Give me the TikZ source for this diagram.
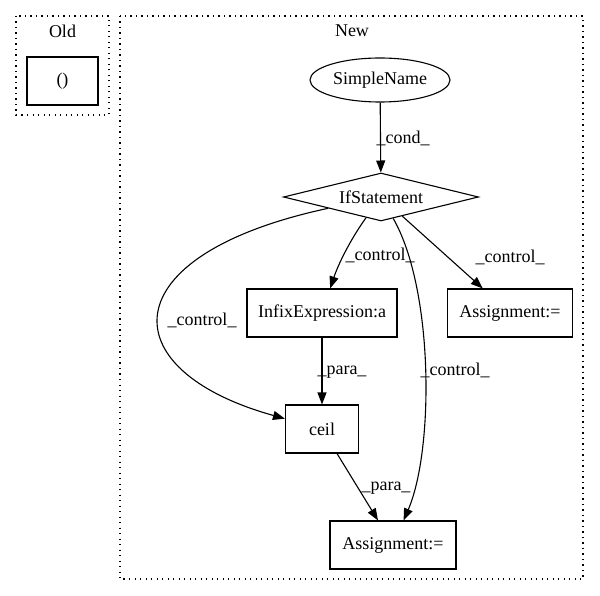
\documentclass[tikz,border=0pt]{standalone}
\usepackage{fontspec}
\setmainfont{Liberation Serif}
\usetikzlibrary{arrows.meta,shapes.geometric}
\begin{document}
\begin{tikzpicture}[x=1pt,y=-1pt,
  every node/.style={font=\fontsize{18}{20}\selectfont},
  box/.style={draw,line width=1.1pt,rectangle,inner sep=0pt,minimum height=48pt},
  cluster/.style={draw,line width=1.1pt,dash pattern=on 1.3pt off 4.2pt},
  edge/.style={draw,line width=1.1pt,-{Triangle[length=12pt,width=9pt]}},
  lbl/.style={inner sep=0pt}]
\useasboundingbox (0,0) rectangle (600,596);
% clusters
\draw[cluster] (16,16) rectangle (109,115);
\draw[cluster] (120,16) rectangle (583,579);
\node[lbl] (oldlbl) at (62.5,31) {Old};
\node[lbl] (newlbl) at (352,31) {New};
% nodes
\node[box,minimum width=71pt] (old) at (62.5,81) {()};
\node[draw,line width=1.1pt,ellipse,inner sep=0pt,minimum width=140pt,minimum height=44pt] (sn) at (380,80) {SimpleName};
\node[draw,line width=1.1pt,diamond,aspect=4,inner sep=0pt,minimum width=195pt,minimum height=48pt] (if) at (381,197) {IfStatement};
\node[box,minimum width=150pt] (infix) at (322,313) {InfixExpression:a};
\node[box,minimum width=125pt] (asgR) at (510,313) {Assignment:=};
\node[box,minimum width=73pt] (ceil) at (322,429) {ceil};
\node[box,minimum width=126pt] (asgB) at (393,545) {Assignment:=};
% edges
\draw[edge] (sn) -- (if);
\node[lbl] at (403,138) {\_cond\_};
\draw[edge] (if) .. controls (350,240) and (338,265) .. (infix);
\node[lbl] at (380,255) {\_control\_};
\draw[edge] (if) -- (asgR);
\node[lbl] at (510,257) {\_control\_};
\draw[edge] (if) .. controls (110,255) and (110,370) .. (ceil);
\node[lbl] at (202,320) {\_control\_};
\draw[edge] (if) .. controls (434,290) and (434,450) .. (asgB);
\node[lbl] at (455,370) {\_control\_};
\draw[edge] (infix) -- (ceil);
\node[lbl] at (342,372) {\_para\_};
\draw[edge] (ceil) -- (asgB);
\node[lbl] at (386,488) {\_para\_};
\end{tikzpicture}
\end{document}
